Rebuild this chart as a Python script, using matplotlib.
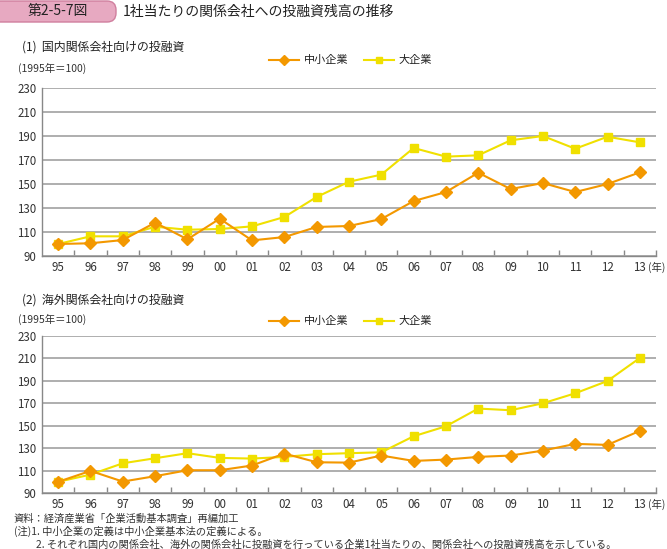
import matplotlib
matplotlib.use("Agg")
import matplotlib.pyplot as plt
from matplotlib.patches import FancyBboxPatch

plt.rcParams['font.family'] = ['Noto Sans CJK JP', 'DejaVu Sans']

years = ["95", "96", "97", "98", "99", "00", "01", "02", "03", "04",
         "05", "06", "07", "08", "09", "10", "11", "12", "13"]

# (1) domestic affiliates
dom_sme = [100, 100.6, 103.3, 117.8, 103.9, 121.1, 103.0, 105.8, 114.2, 115.0,
           120.8, 135.8, 143.3, 159.4, 145.8, 150.8, 143.3, 150.0, 159.7]
dom_large = [100, 106.4, 106.4, 114.4, 111.9, 112.5, 114.7, 122.5, 139.2, 151.9,
             157.8, 180.0, 172.8, 173.9, 186.4, 190.0, 179.4, 189.4, 184.7]

# (2) overseas affiliates
ovs_sme = [100, 109.7, 100.2, 105.0, 110.3, 110.3, 114.5, 125.2, 117.4, 117.1,
           123.4, 118.6, 119.8, 122.2, 123.4, 127.8, 133.8, 132.9, 145.4]
ovs_large = [100, 106.4, 116.5, 121.0, 125.5, 121.3, 120.7, 122.2, 124.6, 125.5,
             126.3, 140.6, 149.5, 165.3, 163.8, 170.0, 178.9, 189.9, 210.4]

yticks = [90, 110, 130, 150, 170, 190, 210, 230]
series_names = ["中小企業", "大企業"]

ORANGE = "#F39800"
YELLOW = "#F0E000"
GRID = "#A8A8A8"

W, H = 667, 549
fig = plt.figure(figsize=(W / 100, H / 100), dpi=100)


def fx(px):
    return px / W


def fy(py):
    return 1 - py / H


# overlay in pixel coordinates for decorations
ov = fig.add_axes([0, 0, 1, 1])
ov.set_xlim(0, W)
ov.set_ylim(H, 0)
ov.axis('off')
ov.set_zorder(-1)


def make_panel(top, bottom, sme, large):
    ax = fig.add_axes([fx(42), fy(bottom), fx(656) - fx(42), fy(top) - fy(bottom)])
    x = list(range(len(years)))
    ax.plot(x, large, color=YELLOW, lw=1.5, marker='s', ms=5.2,
            mfc=YELLOW, mec=YELLOW, zorder=3)
    ax.plot(x, sme, color=ORANGE, lw=1.5, marker='D', ms=5.8,
            mfc=ORANGE, mec=ORANGE, zorder=4)
    ax.set_xlim(-0.5, len(years) - 0.5)
    ax.set_ylim(90, 230)
    ax.set_yticks(yticks)
    ax.set_yticklabels([str(v) for v in yticks], fontsize=8.3, color="#333333")
    ax.yaxis.grid(True, color=GRID, lw=1.3)
    ax.set_axisbelow(True)
    ax.tick_params(axis='y', length=0, pad=4)
    ax.set_xticks(x)
    ax.set_xticklabels(years, fontsize=8.3, color="#333333")
    ax.set_xticks([i + 0.5 for i in range(len(years))], minor=True)
    ax.tick_params(axis='x', which='major', length=0, pad=3.5)
    ax.tick_params(axis='x', which='minor', length=4, direction='in',
                   color="#888888", width=1)
    for s in ['top', 'right']:
        ax.spines[s].set_visible(False)
    for s in ['left', 'bottom']:
        ax.spines[s].set_color("#888888")
        ax.spines[s].set_linewidth(1.0)
    ax.set_facecolor('none')
    return ax


ax1 = make_panel(88, 256, dom_sme, dom_large)
ax2 = make_panel(336, 493, ovs_sme, ovs_large)

# (年) labels
fig.text(fx(648), fy(267), "(年)", fontsize=7.5, ha='left', va='center', color="#333333")
fig.text(fx(648), fy(504), "(年)", fontsize=7.5, ha='left', va='center', color="#333333")

# header box
box = FancyBboxPatch((-12, 1), 128, 21, boxstyle="round,pad=0,rounding_size=9",
                     fc="#E7A9C1", ec="#D07F9E", lw=1.0)
ov.add_patch(box)
fig.text(fx(58), fy(11.5), "第2-5-7図", fontsize=10, ha='center', va='center',
         color="#222222")
fig.text(fx(123), fy(11.5), "1社当たりの関係会社への投融資残高の推移", fontsize=10,
         ha='left', va='center', color="#222222")

# panel titles
fig.text(fx(22), fy(47), "(1)  国内関係会社向けの投融資", fontsize=8.6, ha='left',
         va='center', color="#222222")
fig.text(fx(18), fy(68), "(1995年＝100)", fontsize=7.5, ha='left', va='center',
         color="#333333")
fig.text(fx(22), fy(300), "(2)  海外関係会社向けの投融資", fontsize=8.6, ha='left',
         va='center', color="#222222")
fig.text(fx(18), fy(319), "(1995年＝100)", fontsize=7.5, ha='left', va='center',
         color="#333333")


def legend_at(py):
    ov.plot([269, 299], [py, py], color=ORANGE, lw=1.5)
    ov.plot([284], [py], marker='D', ms=5.5, color=ORANGE)
    fig.text(fx(304), fy(py), series_names[0], fontsize=8, ha='left', va='center',
             color="#222222")
    ov.plot([364, 394], [py, py], color=YELLOW, lw=1.5)
    ov.plot([379], [py], marker='s', ms=5, color=YELLOW)
    fig.text(fx(398), fy(py), series_names[1], fontsize=8, ha='left', va='center',
             color="#222222")


legend_at(60)
legend_at(321)

# footnotes
notes = ["資料：経済産業省「企業活動基本調査」再編加工",
         "(注)1. 中小企業の定義は中小企業基本法の定義による。",
         "2. それぞれ国内の関係会社、海外の関係会社に投融資を行っている企業1社当たりの、関係会社への投融資残高を示している。"]
note_x = [14, 14, 36]
for i, t in enumerate(notes):
    fig.text(fx(note_x[i]), fy(518.5 + i * 13), t, fontsize=7.4, ha='left',
             va='center', color="#333333")

fig.savefig("out.png", dpi=100)
